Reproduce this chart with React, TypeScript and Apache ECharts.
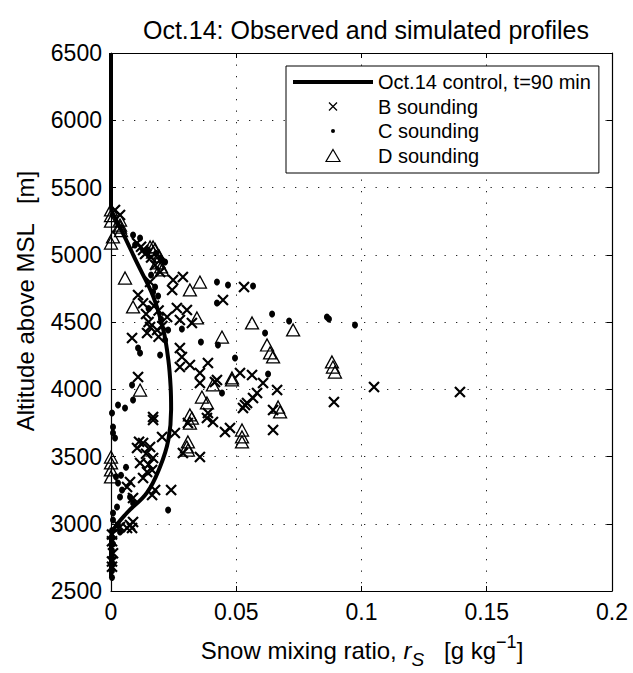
import React, { useEffect, useRef } from "react";
import * as echarts from "echarts";

const FONT = "'Liberation Sans', Arial, Helvetica, sans-serif";

const xTicks = [0, 0.05, 0.1, 0.15, 0.2];
const yTicks = [2500, 3000, 3500, 4000, 4500, 5000, 5500, 6000, 6500];

const seriesNames = ["Oct.14 control, t=90 min", "B sounding", "C sounding", "D sounding"];

// simulated profile [r_s g/kg, altitude m]
const controlProfile = [
  [0, 6500], [0, 5350], [0.0015, 5280], [0.0045, 5170], [0.0104, 4939], [0.0169, 4688],
  [0.0209, 4440], [0.0229, 4217], [0.0238, 4019], [0.024, 3850], [0.0229, 3623],
  [0.0196, 3424], [0.0143, 3229], [0.0063, 3080], [0.0009, 2954], [0, 2880], [0, 2600],
];

const bSounding = [
  [0.0016, 5333], [0.0036, 5296], [0.0104, 5087], [0.0128, 5035], [0.0136, 5005], [0.0176, 4924], [0.0196, 4872],
  [0.0156, 4797], [0.0108, 4701], [0.0248, 4812], [0.0287, 4835], [0.0244, 4738], [0.0263, 4604], [0.0303, 4589],
  [0.0275, 4515], [0.0323, 4493], [0.0224, 4537], [0.0156, 4463], [0.0144, 4418], [0.0184, 4441],
  [0.0531, 4760], [0.0447, 4664], [0.0084, 4381], [0.0275, 4307], [0.0283, 4240], [0.0275, 4165], [0.0315, 4180],
  [0.0355, 4121], [0.0387, 4195], [0.0515, 4121], [0.0563, 4106], [0.0607, 4047], [0.0583, 3972], [0.0543, 3898],
  [0.0527, 3861], [0.0663, 3994], [0.0647, 3846], [0.0355, 4047], [0.0423, 4069], [0.0108, 4091], [0.0168, 3794],
  [0.0567, 3935], [0.0415, 4054], [0.0647, 3697], [0.0455, 3682], [0.0475, 3712], [0.0407, 3756], [0.0387, 3823],
  [0.0355, 3496], [0.089, 3905], [0.105, 4017], [0.1393, 3980],
  [0.0307, 3749], [0.0383, 3786], [0.0168, 3771], [0.0204, 3645], [0.0255, 3675], [0.0287, 3526], [0.0535, 3883],
  [0.0104, 3563], [0.0128, 3600], [0.0156, 3571], [0.0168, 3489], [0.0116, 3452], [0.0144, 3385], [0.0128, 3340],
  [0.0164, 3400], [0.0076, 3310], [0.0064, 3273], [0.0164, 3214], [0.0176, 3251], [0.024, 3251], [0.0076, 2991],
  [0.0064, 2968], [0.0088, 3191], [0.0036, 2976], [0.0084, 2968], [0.0088, 3013],
  [0.0004, 2920], [0.0004, 2870], [0.0008, 2780], [0.0004, 2720], [0.0004, 2680],
  [0.0140, 4560], [0.0172, 4620], [0.0190, 4585], [0.0128, 4640], [0.0205, 4470], [0.0160, 4980],
  [0.0120, 5060], [0.0150, 4500], [0.0190, 4390], [0.0140, 3520], [0.0112, 3610], [0.0150, 3440],
];

const cSounding = [
  [0.0088, 5147], [0.0116, 5125], [0.0096, 5073], [0.0148, 5035], [0.0196, 4976], [0.0216, 4946], [0.0168, 4723],
  [0.0188, 4693], [0.0423, 4797], [0.0467, 4775], [0.0567, 4768], [0.0423, 4641], [0.0643, 4559], [0.0711, 4507],
  [0.0359, 4351], [0.0283, 4448], [0.0108, 4307], [0.0116, 4270], [0.0615, 4418], [0.0495, 4232], [0.0627, 4113],
  [0.0443, 3972], [0.0084, 4032], [0.0088, 3920], [0.0028, 3883], [0.0056, 3861], [0.0004, 3823], [0.0862, 4537],
  [0.087, 4522], [0.0974, 4478], [0.0427, 4329], [0.0228, 3102], [0.0008, 3719], [0.0008, 3675], [0.0016, 3638],
  [0.0028, 3303], [0.0044, 3251], [0.0036, 3199], [0.0076, 3199], [0.0088, 3154], [0.0024, 3125], [0.0008, 3080],
  [0.0008, 3028], [0.0028, 2991], [0.0036, 2939], [0.0216, 4366], [0.0228, 4441], [0.0196, 4255],
  [0.0004, 2950], [0.0004, 2900], [0.0008, 2850], [0.0004, 2800], [0.0004, 2750], [0.0008, 2700], [0.0004, 2650],
  [0.0004, 2600], [0.0180, 5010], [0.0204, 4960], [0.0160, 4850], [0.0176, 4760], [0.0150, 4600],
  [0.0200, 4520], [0.0060, 3420], [0.0040, 3360], [0.0020, 3350],
];

const dSounding = [
  [0, 5333], [0.0036, 5258], [0.0036, 5221], [0.0036, 5206], [0.0008, 5132], [0, 5087], [0.0156, 5058],
  [0.0168, 5058], [0.0168, 5020], [0.0184, 4939], [0.0204, 4887], [0.0056, 4827], [0.0088, 4612], [0.0355, 4797],
  [0.0315, 4738], [0.0343, 4530], [0.0563, 4493], [0.0727, 4441], [0.0443, 4388], [0.0623, 4329], [0.0635, 4270],
  [0.0647, 4240], [0.0483, 4084], [0.0483, 4069], [0.0667, 3868], [0.0675, 3831], [0.0407, 4032], [0.0363, 3942],
  [0.0383, 3898], [0.0116, 3994], [0.0315, 3809], [0.0323, 3786], [0.0315, 3749], [0.0307, 3608], [0.0303, 3571],
  [0.0307, 3548], [0.0523, 3697], [0.0523, 3645], [0.0523, 3608], [0.0882, 4203], [0.0886, 4165], [0.0894, 4128],
  [0, 3496], [0, 3452], [0, 3400], [0, 3348], [0, 5290], [0, 5250],
  [0.0176, 5040], [0.0192, 4990], [0.0200, 4910], [0.0040, 5180],
];

const X_PATH = "path://M0,0L10,10M10,0L0,10";
const LINE_ICON = "path://M0,8L80,8L80,12L0,12Z";
const X_ICON = "path://M0,0M20,20M6,6L14,14M14,6L6,14";
const DOT_ICON = "path://M0,0M20,20M12,10A2,2,0,1,1,8,10A2,2,0,1,1,12,10Z";
const TRI_ICON = "path://M0,0M20,20M10,4L17,16L3,16Z";

export default function App() {
  const ref = useRef<HTMLDivElement>(null);
  useEffect(() => {
    document.body.style.margin = "0";
    const chart = echarts.init(ref.current!, null, { renderer: "svg" });
    const gridDots = { show: true, lineStyle: { color: "#222", type: [1.3, 10.2], width: 1 } };
    const plain = (v: number) => String(v);
    const option: any = {
      animation: false,
      backgroundColor: "#fff",
      title: {
        text: "Oct.14: Observed and simulated profiles",
        left: 361,
        top: 12,
        textAlign: "center",
        textStyle: { fontSize: 25, fontWeight: "normal", color: "#000", fontFamily: FONT },
      },
      grid: { left: 111, right: 21, top: 53, bottom: 82, show: false },
      legend: {
        orient: "vertical",
        left: 286,
        top: 66,
        width: 314,
        backgroundColor: "#fff",
        borderColor: "#000",
        borderWidth: 1,
        padding: [6, 8, 5, 7],
        itemGap: 2,
        itemWidth: 80,
        itemHeight: 20,
        selectedMode: false,
        textStyle: { fontSize: 20, lineHeight: 20, color: "#000", fontFamily: FONT },
        data: [
          { name: seriesNames[0], icon: LINE_ICON, itemStyle: { color: "#000", borderWidth: 0, opacity: 1 } },
          { name: seriesNames[1], icon: X_ICON, itemStyle: { color: "none", borderColor: "#000", borderWidth: 1.3, opacity: 1 } },
          { name: seriesNames[2], icon: DOT_ICON, itemStyle: { color: "#000", borderWidth: 0, opacity: 1 } },
          { name: seriesNames[3], icon: TRI_ICON, itemStyle: { color: "none", borderColor: "#000", borderWidth: 1.2, opacity: 1 } },
        ],
      },
      xAxis: [
        {
          type: "value", position: "bottom", min: xTicks[0], max: xTicks[xTicks.length - 1], interval: 0.05,
          axisLine: { show: true, onZero: false, lineStyle: { color: "#000", width: 1.2 } },
          axisTick: { show: true, inside: true, length: 5, lineStyle: { color: "#000" } },
          axisLabel: { fontSize: 23, color: "#000", fontFamily: FONT, margin: 9, formatter: plain },
          splitLine: gridDots,
        },
        {
          type: "value", position: "top", min: xTicks[0], max: xTicks[xTicks.length - 1], interval: 0.05,
          axisLine: { show: true, onZero: false, lineStyle: { color: "#000", width: 1.2 } },
          axisTick: { show: true, inside: true, length: 5, lineStyle: { color: "#000" } },
          axisLabel: { show: false },
          splitLine: { show: false },
        },
      ],
      yAxis: [
        {
          type: "value", position: "left", min: yTicks[0], max: yTicks[yTicks.length - 1], interval: 500,
          axisLine: { show: true, onZero: false, lineStyle: { color: "#000", width: 1.2 } },
          axisTick: { show: true, inside: true, length: 5, lineStyle: { color: "#000" } },
          axisLabel: { fontSize: 23, color: "#000", fontFamily: FONT, margin: 9, formatter: plain },
          splitLine: gridDots,
        },
        {
          type: "value", position: "right", min: yTicks[0], max: yTicks[yTicks.length - 1], interval: 500,
          axisLine: { show: true, onZero: false, lineStyle: { color: "#000", width: 1.2 } },
          axisTick: { show: true, inside: true, length: 5, lineStyle: { color: "#000" } },
          axisLabel: { show: false },
          splitLine: { show: false },
        },
      ],
      graphic: [
        {
          type: "text", x: 25, y: 301, rotation: Math.PI / 2,
          style: {
            text: "Altitude above MSL   [m]", fontSize: 24, fill: "#000", fontFamily: FONT,
            textAlign: "center", textVerticalAlign: "middle",
          },
        },
        {
          type: "text", x: 362, y: 650,
          style: {
            text: "Snow mixing ratio, {i|r}{sub|S}   [g kg{sup|−1}]",
            fontSize: 24, fill: "#000", fontFamily: FONT, textAlign: "center", textVerticalAlign: "middle",
            rich: {
              i: { fontSize: 24, fontStyle: "italic", fontFamily: FONT, fill: "#000" },
              sub: { fontSize: 19, fontStyle: "italic", fontFamily: FONT, fill: "#000", padding: [18, 0, 0, 0] },
              sup: { fontSize: 18, fontFamily: FONT, fill: "#000", padding: [0, 0, 16, 0] },
            },
          },
        },
      ],
      series: [
        {
          name: seriesNames[0], type: "line", data: controlProfile, smooth: 0.4, symbol: "none", showSymbol: false, z: 2,
          lineStyle: { color: "#000", width: 4 }, itemStyle: { color: "#000" },
        },
        {
          name: seriesNames[1], type: "scatter", data: bSounding, symbol: X_PATH, symbolSize: 10, clip: false, z: 3,
          itemStyle: { color: "none", borderColor: "#000", borderWidth: 2.2, opacity: 1 },
        },
        {
          name: seriesNames[2], type: "scatter", data: cSounding, symbol: "circle", symbolSize: [6, 7], clip: false, z: 3,
          itemStyle: { color: "#000", borderWidth: 0, opacity: 1 },
        },
        {
          name: seriesNames[3], type: "scatter", data: dSounding, symbol: "triangle", symbolSize: [13, 12], clip: false, z: 3,
          itemStyle: { color: "none", borderColor: "#000", borderWidth: 1.3, opacity: 1 },
        },
      ],
    };
    chart.setOption(option);
    return () => chart.dispose();
  }, []);
  return <div ref={ref} style={{ width: 633, height: 673 }} />;
}
